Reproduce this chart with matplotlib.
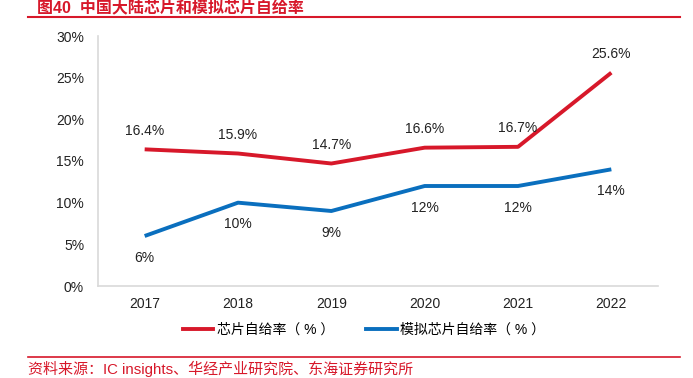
import matplotlib.pyplot as plt
from matplotlib.lines import Line2D

plt.rcParams['font.family'] = ['Liberation Sans', 'Noto Sans CJK SC', 'DejaVu Sans']

years = ['2017', '2018', '2019', '2020', '2021', '2022']
chip = [16.4, 15.9, 14.7, 16.6, 16.7, 25.6]
analog = [6, 10, 9, 12, 12, 14]
chip_labels = ['16.4%', '15.9%', '14.7%', '16.6%', '16.7%', '25.6%']
analog_labels = ['6%', '10%', '9%', '12%', '12%', '14%']

red = '#D7182A'
blue = '#0A6FBE'
grey = '#d9d9d9'

fig = plt.figure(figsize=(6.93, 3.78), dpi=100)
ax = fig.add_axes([98 / 693, 1 - 286 / 378, (658 - 98) / 693, 250 / 378])

x = list(range(len(years)))
ax.plot(x, chip, color=red, lw=2.8, solid_capstyle='butt')
ax.plot(x, analog, color=blue, lw=2.8, solid_capstyle='butt')

for i in x:
    ax.annotate(chip_labels[i], (i, chip[i]), xytext=(0, 8.5), textcoords='offset points',
                ha='center', va='bottom', fontsize=10, color='#222222')
    ax.annotate(analog_labels[i], (i, analog[i]), xytext=(0, -10.5), textcoords='offset points',
                ha='center', va='top', fontsize=10, color='#222222')

ax.set_xlim(-0.5, len(years) - 0.5)
ax.set_ylim(0, 30)
ax.set_xticks(x)
ax.set_xticklabels(years)
ax.set_yticks(range(0, 31, 5))
ax.set_yticklabels([f'{v}%' for v in range(0, 31, 5)])
ax.tick_params(length=0, labelsize=10, colors='#222222')
ax.tick_params(axis='x', pad=8)
ax.tick_params(axis='y', pad=10)
for s in ['top', 'right']:
    ax.spines[s].set_visible(False)
for s in ['left', 'bottom']:
    ax.spines[s].set_color(grey)
    ax.spines[s].set_linewidth(1.2)

handles = [Line2D([], [], color=red, lw=2.8), Line2D([], [], color=blue, lw=2.8)]
fig.legend(handles, ['芯片自给率（ % ）', '模拟芯片自给率（ % ）'], loc='center',
           bbox_to_anchor=(364 / 693, 1 - 330 / 378), ncol=2, frameon=False,
           fontsize=10, handlelength=2.2, handletextpad=0.25, columnspacing=2.3)

fig.text(37 / 693, 1 - 7 / 378, '图40  中国大陆芯片和模拟芯片自给率', color=red,
         fontsize=11.5, fontweight='bold', ha='left', va='center')
fig.add_artist(Line2D([28 / 693, 680 / 693], [1 - 17 / 378] * 2, color=red, lw=1.5))
fig.add_artist(Line2D([28 / 693, 680 / 693], [1 - 357 / 378] * 2, color=red, lw=1.2))
fig.text(28 / 693, 1 - 369 / 378, '资料来源：IC insights、华经产业研究院、东海证券研究所', color=red,
         fontsize=10.8, ha='left', va='center')

fig.savefig('out.png', dpi=100)
